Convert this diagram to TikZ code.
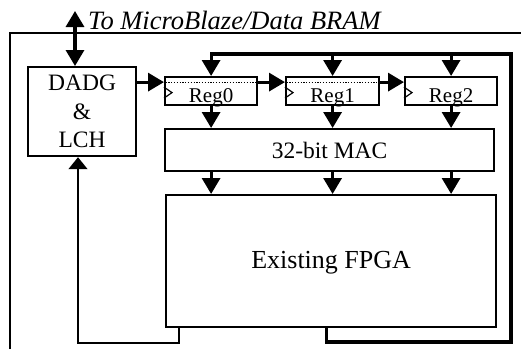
\documentclass[tikz,border=0pt]{standalone}
\usepackage{fontspec}
\setmainfont{Liberation Serif}
\usetikzlibrary{arrows.meta}
\begin{document}
\begin{tikzpicture}[x=1pt,y=-1pt,
  box/.style={draw,line width=2.2pt,rectangle,inner sep=0pt,anchor=north west,fill=white},
  arr/.style={line width=3.2pt,-{Triangle[length=16pt,width=18pt]}},
  loopline/.style={line width=3.2pt},
  thinarr/.style={line width=1.4pt,-{Triangle[length=12pt,width=19pt]}},
  frameline/.style={line width=1.7pt},
  regtxt/.style={font=\fontsize{21}{24}\selectfont,inner sep=0pt,anchor=base},
  dotline/.style={line width=1.3pt,dash pattern=on 1.3pt off 1.5pt},
  clk/.style={line width=1.2pt}]
\useasboundingbox (0,0) rectangle (521,349);
% frame
\coordinate (fbl) at (10,349);
\coordinate (ftl) at (10,33);
\coordinate (ftr) at (521,33);
\draw[frameline] (fbl) -- (ftl) -- (ftr);
% boxes
\node[box,minimum width=108pt,minimum height=89pt] (dadg) at (27,66) {};
\node[align=center,font=\fontsize{23.5}{28.5}\selectfont,inner sep=0pt] (dadgtxt) at (dadg.center) {DADG\\\&\\LCH};
\node[box,minimum width=92pt,minimum height=28pt] (reg0) at (164,76) {};
\node[box,minimum width=93pt,minimum height=28pt] (reg1) at (285,76) {};
\node[box,minimum width=92pt,minimum height=28pt] (reg2) at (404,76) {};
\node[regtxt] (r0t) at ([yshift=3.5pt]reg0.south) {Reg0};
\node[regtxt] (r1t) at ([yshift=3.5pt]reg1.south) {Reg1};
\node[regtxt] (r2t) at ([yshift=3.5pt]reg2.south) {Reg2};
% dotted lines and clock marks
\draw[dotline] ([yshift=8.5pt,xshift=1.5pt]reg0.west) -- ([yshift=8.5pt,xshift=-1.5pt]reg0.east);
\draw[dotline] ([yshift=8.5pt,xshift=1.5pt]reg1.west) -- ([yshift=8.5pt,xshift=-1.5pt]reg1.east);
\foreach \r in {reg0,reg1,reg2}{
  \draw[clk] ([yshift=4pt]\r.west) -- ([xshift=8pt,yshift=-1.5pt]\r.west) -- ([yshift=-7pt]\r.west);
}
\node[box,minimum width=329pt,minimum height=42pt] (mac) at (164,128) {};
\node[font=\fontsize{23.5}{28}\selectfont,inner sep=0pt] (mactxt) at (mac.center) {32-bit MAC};
\node[box,minimum width=330pt,minimum height=132pt] (fpga) at (165,194) {};
\node[font=\fontsize{26}{30}\selectfont,inner sep=0pt] (fpgatxt) at ([yshift=-2pt]fpga.center) {Existing FPGA};
% top label and bidirectional arrow
\node[anchor=base west,inner sep=0pt,font=\fontsize{26.5}{30}\selectfont\itshape] (tomb) at (88,29) {To MicroBlaze/Data BRAM};
\coordinate (ext) at (75,11);
\draw[line width=3.2pt,{Triangle[length=16pt,width=18pt]}-{Triangle[length=16pt,width=18pt]}] (ext) -- (ext |- dadg.north);
% register chain
\draw[arr] ([yshift=29.5pt]dadg.east) -- ([yshift=9pt]reg0.west);
\draw[arr] ([yshift=9pt]reg0.east) -- ([yshift=9pt]reg1.west);
\draw[arr] ([yshift=9pt]reg1.east) -- ([yshift=9pt]reg2.west);
% regs to MAC and MAC to FPGA
\foreach \r in {reg0,reg1,reg2}{
  \draw[arr] (\r.south) -- (\r.south |- mac.north);
  \draw[arr] (\r.south |- mac.south) -- (\r.south |- fpga.north);
}
% feedback loop
\coordinate (l2) at (511,342);
\coordinate (l3) at (511,54);
\draw[loopline,line join=miter] ([xshift=-5pt]fpga.south) |- (l2) -- (l3) -- (reg1.north |- l3);
\draw[arr,line join=miter] (reg2.north |- l3) -- (reg0.north |- l3) -- (reg0.north);
\draw[arr] (reg1.north |- l3) -- (reg1.north);
\draw[arr] (reg2.north |- l3) -- (reg2.north);
% left feedback to DADG
\coordinate (c1) at (78,343);
\draw[thinarr] ([xshift=14pt]fpga.south west) |- (c1) -- (c1 |- dadg.south);
\end{tikzpicture}
\end{document}
